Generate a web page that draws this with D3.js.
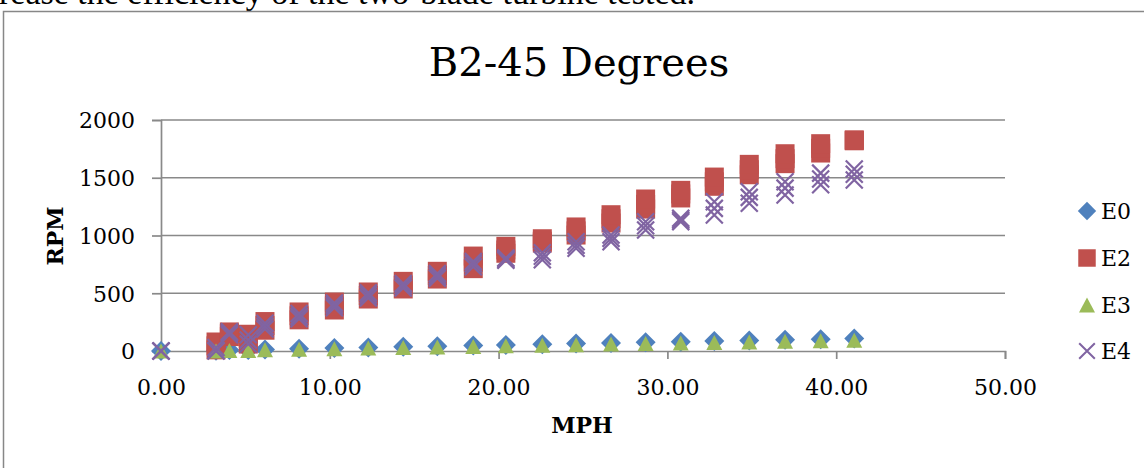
<!DOCTYPE html>
<html>
<head>
<meta charset="utf-8">
<script src="https://cdn.jsdelivr.net/npm/d3@7"></script>
<style>
  body { margin: 0; background: #fff; }
  svg { display: block; }
</style>
</head>
<body>
<div id="chart_box"></div>
<script>
// wind speed for each run (MPH)
mph = [0, 3.26, 4.05, 5.17, 6.16, 8.18, 10.27, 12.28, 14.35, 16.37, 18.5, 20.43, 22.59, 24.59, 26.66, 28.71, 30.79, 32.78, 34.85, 36.97, 39.08, 41.07]

// RPM readings, E2 and E4 have three readings per speed
e0 = [0, 3, 8, 8, 14, 20, 25, 31, 37, 42, 48, 53, 58, 64, 69, 75, 80, 86, 91, 97, 102, 108]
e2 = [[], [10, 45, 78], [125, 150, 165], [60, 110, 145], [180, 220, 255], [270, 305, 338],
      [355, 390, 424], [450, 480, 511], [537, 570, 603], [623, 655, 690], [713, 770, 822],
      [846, 875, 906], [935, 950, 972], [1004, 1040, 1074], [1108, 1145, 1180], [1229, 1270, 1316],
      [1325, 1360, 1391], [1426, 1465, 1506], [1526, 1570, 1616], [1622, 1665, 1708],
      [1714, 1755, 1795], [1820, 1824, 1828]]
e3 = [0, 1, 4, 5, 10, 15, 20, 25, 30, 35, 40, 45, 50, 55, 60, 64, 69, 74, 79, 84, 89, 94]
e4 = [[0, 0, 0], [0, 5, 30], [140, 155, 167], [60, 95, 140], [190, 215, 240], [280, 300, 325],
      [375, 395, 415], [460, 485, 505], [545, 565, 585], [630, 650, 670], [730, 755, 775],
      [785, 795, 805], [790, 820, 850], [889, 915, 946], [946, 975, 1004], [1048, 1085, 1119],
      [1120, 1135, 1150], [1177, 1235, 1293], [1279, 1330, 1379], [1351, 1410, 1466],
      [1440, 1490, 1540], [1480, 1530, 1575]]

seriesNames = ["E0", "E2", "E3", "E4"]
seriesColors = ["#4F81BD", "#C0504D", "#9BBB59", "#8064A2"]
xTicks = [0, 10, 20, 30, 40, 50]
yTicks = [0, 500, 1000, 1500, 2000]

const W = 1144, H = 468
const font = "'DejaVu Serif', serif"
const gridColor = "#898989"

// marker shapes centred on 0,0
function markerPath(name) {
    if (name === "E0") return "M0,-10L10,0L0,10L-10,0Z"
    if (name === "E2") return "M-9.5,-9.5H9.5V9.5H-9.5Z"
    if (name === "E3") return "M0,-7.5L8,7.5L-8,7.5Z"
    return "M-8.5,-8.5L8.5,8.5M8.5,-8.5L-8.5,8.5"
}

function create_chart() {
    const svg = d3.select("#chart_box").append("svg")
        .attr("width", W)
        .attr("height", H)

    // bit of document text cut off at the top
    svg.append("text")
        .attr("x", -1)
        .attr("y", 4)
        .attr("font-family", "'Liberation Serif', serif")
        .attr("font-size", 34)
        .text("rease the efficiency of the two-blade turbine tested.")

    // chart frame, runs off the page on the right and bottom
    svg.append("rect")
        .attr("x", 3.5)
        .attr("y", 11.5)
        .attr("width", W + 20)
        .attr("height", H + 20)
        .attr("fill", "none")
        .attr("stroke", "#878787")
        .attr("stroke-width", 1.5)

    const x = d3.scaleLinear().domain([0, 50]).range([161, 1005])
    const y = d3.scaleLinear().domain([0, 2000]).range([351, 120])

    // gridlines
    svg.append("g")
        .selectAll("line")
        .data(yTicks.slice(1))
        .join("line")
        .attr("x1", x(0))
        .attr("x2", x(50))
        .attr("y1", d => y(d))
        .attr("y2", d => y(d))
        .attr("stroke", gridColor)
        .attr("stroke-width", 1.7)

    const yAxis = svg.append("g")
        .attr("transform", "translate(" + x(0) + ",0)")
        .call(d3.axisLeft(y).tickValues(yTicks).tickSize(9).tickPadding(17).tickFormat(d3.format("d")))
    const xAxis = svg.append("g")
        .attr("transform", "translate(0," + y(0) + ")")
        .call(d3.axisBottom(x).tickValues(xTicks).tickSize(8).tickPadding(20).tickFormat(d3.format(".2f")))

    for (const ax of [xAxis, yAxis]) {
        ax.select(".domain").attr("stroke", gridColor).attr("stroke-width", 1.7)
        ax.selectAll(".tick line").attr("stroke", gridColor).attr("stroke-width", 1.7)
        ax.selectAll("text")
            .attr("font-family", font)
            .attr("font-size", 22)
            .attr("fill", "#000")
    }
    yAxis.selectAll("text").attr("dy", "0.36em")

    // title and axis titles
    svg.append("text")
        .attr("x", 579)
        .attr("y", 76)
        .attr("text-anchor", "middle")
        .attr("font-family", font)
        .attr("font-size", 40)
        .text("B2-45 Degrees")

    svg.append("text")
        .attr("x", 582)
        .attr("y", 433)
        .attr("text-anchor", "middle")
        .attr("font-family", font)
        .attr("font-weight", "bold")
        .attr("font-size", 22)
        .text("MPH")

    svg.append("text")
        .attr("transform", "translate(63,236) rotate(-90)")
        .attr("text-anchor", "middle")
        .attr("font-family", font)
        .attr("font-weight", "bold")
        .attr("font-size", 22)
        .text("RPM")

    // flatten the readings into points
    const allSeries = [e0, e2, e3, e4]
    const points = []
    allSeries.forEach((vals, si) => {
        vals.forEach((v, i) => {
            const readings = Array.isArray(v) ? v : [v]
            for (const r of readings) {
                points.push({ name: seriesNames[si], color: seriesColors[si], mph: mph[i], rpm: r })
            }
        })
    })

    svg.append("g")
        .selectAll("path")
        .data(points)
        .join("path")
        .attr("d", d => markerPath(d.name))
        .attr("transform", d => "translate(" + x(d.mph) + "," + y(d.rpm) + ")")
        .attr("fill", d => d.name === "E4" ? "none" : d.color)
        .attr("stroke", d => d.name === "E4" ? d.color : "none")
        .attr("stroke-width", 2.2)

    // legend
    const legendY = [211, 258, 305, 351]
    const legend = svg.append("g")
        .selectAll("g")
        .data(seriesNames)
        .join("g")
        .attr("transform", (d, i) => "translate(1087," + legendY[i] + ")")
    legend.append("path")
        .attr("d", d => markerPath(d))
        .attr("transform", d => d === "E3" ? "scale(1)" : "scale(0.92)")
        .attr("fill", (d, i) => d === "E4" ? "none" : seriesColors[i])
        .attr("stroke", (d, i) => d === "E4" ? seriesColors[i] : "none")
        .attr("stroke-width", 2.2)
    legend.append("text")
        .attr("x", 14)
        .attr("dy", "0.36em")
        .attr("font-family", font)
        .attr("font-size", 22)
        .text(d => d)
}

create_chart()
</script>
</body>
</html>
